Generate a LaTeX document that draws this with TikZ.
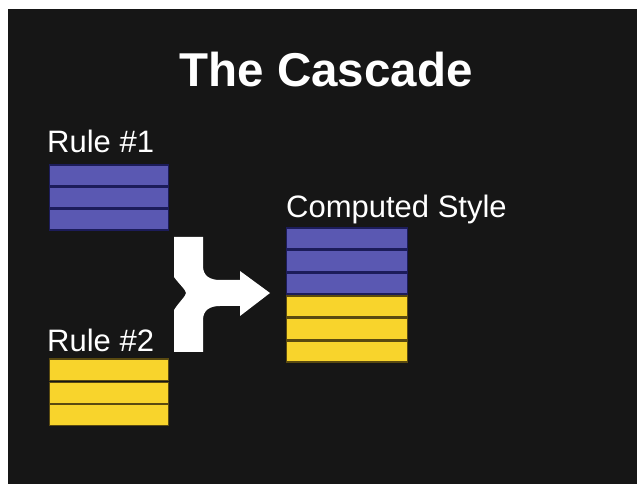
\documentclass[tikz,border=0pt]{standalone}
\usepackage{fontspec}
\setmainfont{Liberation Sans}
\definecolor{bg}{RGB}{22,22,22}
\definecolor{barblue}{RGB}{90,88,178}
\definecolor{edgeblue}{RGB}{28,28,90}
\definecolor{baryellow}{RGB}{248,212,44}
\definecolor{edgeyellow}{RGB}{90,74,16}
\begin{document}
\begin{tikzpicture}[x=1pt,y=-1pt,
  bar/.style={rectangle, inner sep=0pt, minimum width=119pt, minimum height=21pt, line width=1.3pt, anchor=north west},
  bluebar/.style={bar, fill=barblue, draw=edgeblue},
  yellowbar/.style={bar, fill=baryellow, draw=edgeyellow},
  lbl/.style={text=white, font=\fontsize{31}{35}\selectfont, inner sep=0pt, anchor=base west},
  ttl/.style={text=white, font=\fontsize{47.5}{54}\selectfont\bfseries, inner sep=0pt, anchor=base}]
\useasboundingbox (0,0) rectangle (641,484);
\fill[white] (0,0) rectangle (641,484);
\fill[bg] (8,9) rectangle (637,484);
\node[ttl] (title) at (326,87) {The Cascade};
% Rule 1
\node[lbl] (rule1) at (47,153) {Rule \#1};
\node[bluebar] (r1a) at (48.5,164.5) {};
\node[bluebar] (r1b) at (48.5,186.5) {};
\node[bluebar] (r1c) at (48.5,208.5) {};
% Rule 2
\node[lbl] (rule2) at (47,352) {Rule \#2};
\node[yellowbar] (r2a) at (48.5,358.5) {};
\node[yellowbar] (r2b) at (48.5,381.5) {};
\node[yellowbar] (r2c) at (48.5,404) {};
% Computed
\node[lbl] (comp) at (286,218) {Computed Style};
\node[bluebar, minimum width=121pt] (c1) at (285.5,227.5) {};
\node[bluebar, minimum width=121pt] (c2) at (285.5,250) {};
\node[bluebar, minimum width=121pt] (c3) at (285.5,272.5) {};
\node[yellowbar, minimum width=121pt] (c4) at (285.5,295.5) {};
\node[yellowbar, minimum width=121pt] (c5) at (285.5,318) {};
\node[yellowbar, minimum width=121pt] (c6) at (285.5,340.5) {};
% merge arrow
\fill[white] (174,237) -- (203,237) -- (203,266)
  .. controls (203,276) and (210,280) .. (220,280) -- (240,280) -- (240,271)
  -- (270,293) -- (240,316) -- (240,306) -- (220,306)
  .. controls (210,306) and (203,310) .. (203,320) -- (203,352) -- (174,352)
  -- (174,310) .. controls (179,302) and (186,296) .. (186,293)
  .. controls (186,290) and (179,284) .. (174,277) -- cycle;
\end{tikzpicture}
\end{document}
